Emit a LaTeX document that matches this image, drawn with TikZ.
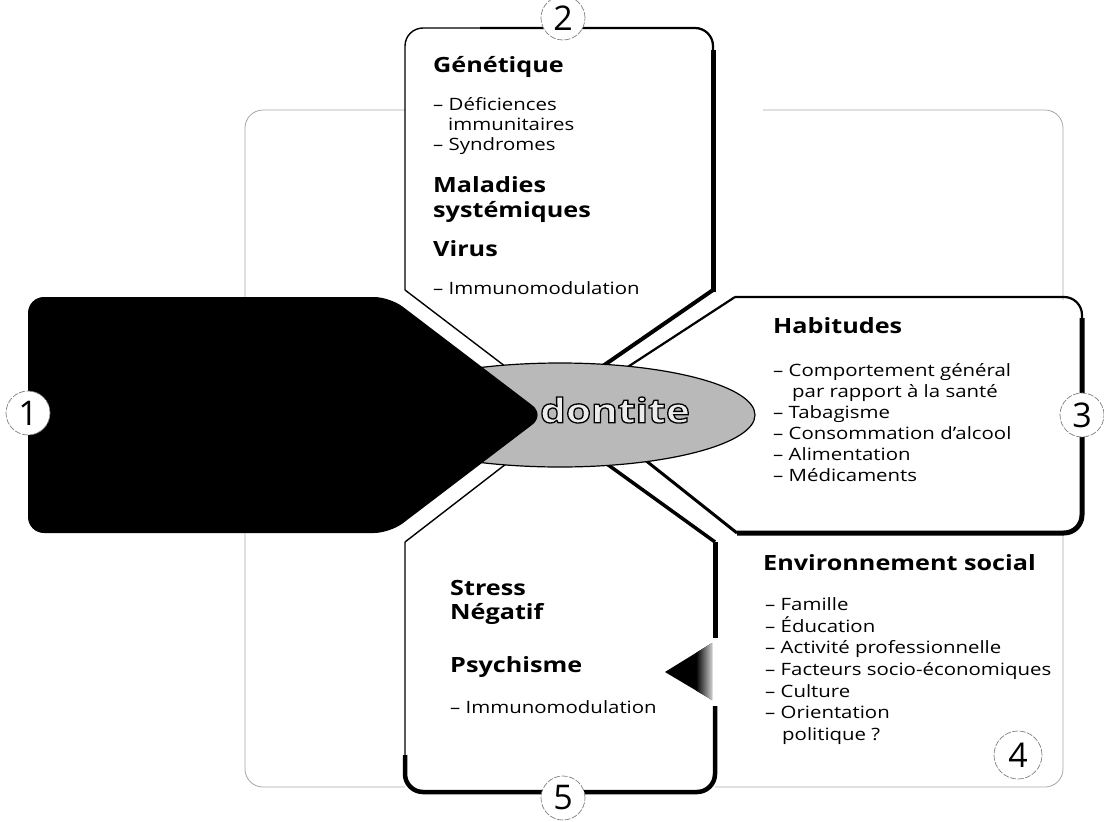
\documentclass[tikz,border=0pt]{standalone}
\usepackage{fontspec}
\setmainfont{Open Sans}[FakeStretch=1.2]
\newfontfamily\numfont{Open Sans}
\usetikzlibrary{shapes.geometric}
\newcommand{\outlinedtext}[1]{\textcolor{gray!15}{\special{pdf:literal direct 2 Tr 1.3 w 0 0 0 RG}#1\special{pdf:literal direct 0 Tr}}}
\begin{document}
\begin{tikzpicture}[x=1pt,y=-1pt,
  hd/.style={anchor=base west, inner sep=0pt, font=\fontsize{21}{24}\selectfont\bfseries},
  itm/.style={anchor=base west, inner sep=0pt, font=\fontsize{17}{20}\selectfont},
  num/.style={circle, draw=gray, line width=0.7pt, dash pattern=on 6pt off 1.5pt, fill=white, minimum size=44pt, inner sep=0pt, font=\numfont\fontsize{34}{34}\selectfont},
  outerline/.style={draw=gray!70, line width=0.8pt},
  thinb/.style={line width=1.4pt},
  medb/.style={line width=2.2pt},
  thickb/.style={line width=5pt}
]
\useasboundingbox (0,0) rectangle (1104,822);
% outer frame
\draw[outerline, rounded corners=18] (405,110) -- (245,110) -- (245,787) -- (405,787);
\draw[outerline, rounded corners=18] (763,110) -- (1063,110) -- (1063,300);
\draw[outerline, rounded corners=18] (1063,530) -- (1063,787) -- (715,787);
% gutters (diagonals)
\draw[thinb] (405,290) -- (510,370);
\draw[line width=4pt] (713,290) -- (600,368);
\draw[medb] (735,297) -- (620,372);
\draw[line width=3pt] (737,533) -- (630,448);
\draw[line width=3.5pt] (715,542) -- (600,459);
\draw[thinb] (405,542) -- (515,457);
% box 2
\draw[thinb, rounded corners=18] (405,290) -- (405,28) -- (713,28) -- (713,290);
\draw[medb, rounded corners=18] (480,28) -- (713,28) -- (713,100);
\draw[thickb] (713,50) -- (713,292);
% box 3
\draw[medb, rounded corners=18] (735,297) -- (1082,297) -- (1082,533) -- (737,533);
\draw[thickb, rounded corners=18] (1082,318) -- (1082,533) -- (737,533);
% box 5
\draw[thinb, rounded corners=18] (405,542) -- (405,792) -- (600,792);
\draw[line width=4.5pt, rounded corners=18] (405,755) -- (405,792) -- (715,792) -- (715,706);
\draw[thickb] (715,638) -- (715,542);
% centre
\node (core) at (560,415) [ellipse, draw, line width=1.2pt, fill=gray!55, minimum width=390pt, minimum height=104pt, inner sep=0pt] {};
\fill[black, rounded corners=16] (390,297) -- (28,297) -- (28,533) -- (390,533) -- (545,415) -- cycle;
\node (ptxt) at (615,410) [inner sep=0pt, font=\fontsize{34}{34}\selectfont\bfseries] {\outlinedtext{dontite}};
% pointer triangle
\fill[black] (665,672) -- (712,643) -- (712,700) -- cycle;
\shade[left color=black, right color=gray!40] (696,652.9) -- (712,643) -- (712,700) -- (696,690.5) -- cycle;
% numbered circles
\node[num] (n1) at (28,413) {1};
\node[num] (n2) at (563,18) {2};
\node[num] (n3) at (1082,415) {3};
\node[num, minimum size=48pt] (n4) at (1018,755) {4};
\node[num] (n5) at (563,798) {5};
% box 2 text
\node[hd] (g1) at (433,72) {Génétique};
\node[itm] (g2) at (433,110) {– Déficiences};
\node[itm] (g3) at (448,130) {immunitaires};
\node[itm] (g4) at (433,150) {– Syndromes};
\node[hd] (g5) at (433,192) {Maladies};
\node[hd] (g6) at (433,217) {systémiques};
\node[hd] (g7) at (433,256) {Virus};
\node[itm] (g8) at (433,294) {– Immunomodulation};
% box 3 text
\node[hd] (h1) at (773,333) {Habitudes};
\node[itm] (h2) at (773,376) {– Comportement général};
\node[itm] (h3) at (792,397) {par rapport à la santé};
\node[itm] (h4) at (773,418) {– Tabagisme};
\node[itm] (h5) at (773,439) {– Consommation d'alcool};
\node[itm] (h6) at (773,460) {– Alimentation};
\node[itm] (h7) at (773,481) {– Médicaments};
% box 4 text
\node[hd] (e1) at (763,570) {Environnement social};
\node[itm] (e2) at (765,610) {– Famille};
\node[itm] (e3) at (765,632) {– Éducation};
\node[itm] (e4) at (765,653) {– Activité professionnelle};
\node[itm] (e5) at (765,675) {– Facteurs socio-économiques};
\node[itm] (e6) at (765,697) {– Culture};
\node[itm] (e7) at (765,718) {– Orientation};
\node[itm] (e8) at (782,740) {politique ?};
% box 5 text
\node[hd] (s1) at (450,595) {Stress};
\node[hd] (s2) at (450,619) {Négatif};
\node[hd] (s3) at (450,672) {Psychisme};
\node[itm] (s4) at (450,713) {– Immunomodulation};
\end{tikzpicture}
\end{document}
